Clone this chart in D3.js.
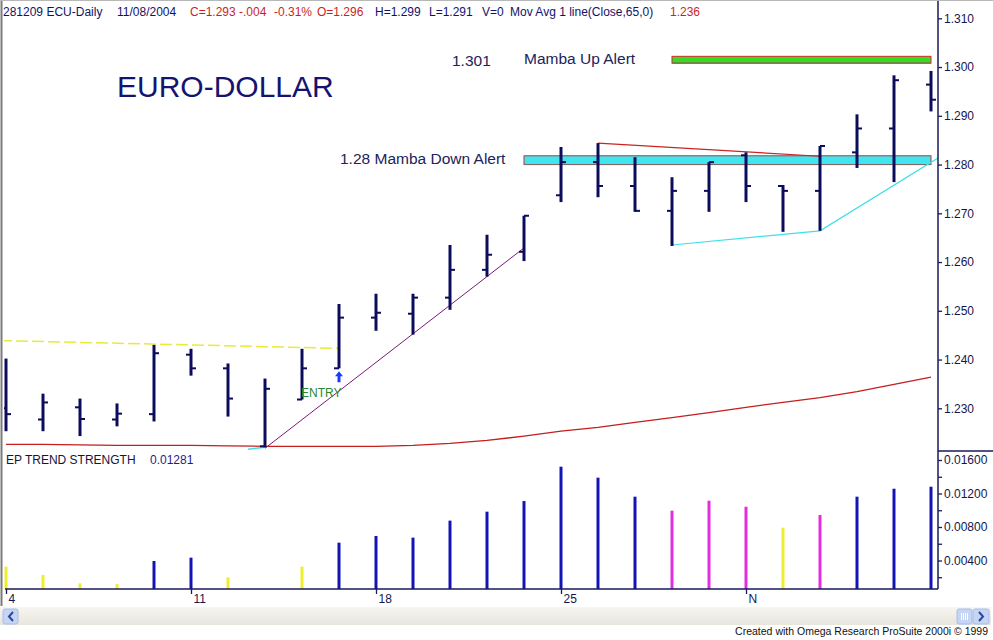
<!DOCTYPE html>
<html>
<head>
<meta charset="utf-8">
<script src="https://cdn.jsdelivr.net/npm/d3@7"></script>
<style>
  body { margin: 0; background: #fff; }
  svg { display: block; font-family: "Liberation Sans", Arial, sans-serif; }
</style>
</head>
<body>
<div id="chart"></div>
<script>

/* daily EUR/USD bars, 4 Oct 2004 .. 8 Nov 2004 */
var dates = ["10/04","10/05","10/06","10/07","10/08","10/11","10/12","10/13","10/14","10/15",
             "10/18","10/19","10/20","10/21","10/22","10/25","10/26","10/27","10/28","10/29",
             "11/01","11/02","11/03","11/04","11/05","11/08"];
var opens  = [1.2300,1.2277,1.2302,1.2277,1.2288,1.2410,1.2382,1.2222,1.2318,1.2382,
              1.2486,1.2494,1.2527,1.2584,1.2621,1.2737,1.2805,1.2756,1.2705,1.2746,
              1.2819,1.2756,1.2746,1.2825,1.2874,1.2964];
var highs  = [1.2402,1.2330,1.2320,1.2310,1.2430,1.2422,1.2392,1.2361,1.2422,1.2514,
              1.2535,1.2535,1.2635,1.2656,1.2695,1.2836,1.2844,1.2815,1.2774,1.2805,
              1.2825,1.2758,1.2838,1.2903,1.2983,1.2992];
var lows   = [1.2253,1.2253,1.2243,1.2263,1.2273,1.2367,1.2283,1.2220,1.2318,1.2382,
              1.2459,1.2451,1.2502,1.2570,1.2602,1.2723,1.2733,1.2703,1.2633,1.2703,
              1.2723,1.2662,1.2664,1.2793,1.2764,1.2909];
var closes = [1.2288,1.2312,1.2278,1.2289,1.2413,1.2382,1.2320,1.2340,1.2382,1.2486,
              1.2496,1.2527,1.2584,1.2615,1.2695,1.2805,1.2756,1.2705,1.2746,1.2805,
              1.2756,1.2746,1.2838,1.2874,1.2973,1.2933];
// 65 day moving average of close
var movAvg = [1.2226,1.2226,1.2225,1.2224,1.2224,1.2224,1.2223,1.2222,1.2222,1.2222,
              1.2222,1.2224,1.2228,1.2234,1.2243,1.2253,1.2261,1.2271,1.2281,1.2291,
              1.2302,1.2312,1.2322,1.2334,1.2349,1.2364];

// EP trend strength histogram (null = no bar)
var trendStrength = [0.00326,0.00227,0.00128,0.00119,0.00394,0.00434,0.00199,null,0.00326,0.00613,
                     0.00693,0.00673,0.00876,0.00983,0.01110,0.01520,0.01389,0.01162,0.00995,0.01114,
                     0.01042,0.00792,0.00943,0.01162,0.01257,0.01281];
var trendState = ["weak","weak","weak","weak","up","up","weak","none","weak","up",
                  "up","up","up","up","up","up","up","up","fade","fade",
                  "fade","weak","fade","up","up","up"];

var dateTickIdx = [0, 5, 10, 15, 20];
var dateTickLabels = ["4", "11", "18", "25", "N"];
var priceTicks = [1.23, 1.24, 1.25, 1.26, 1.27, 1.28, 1.29, 1.30, 1.31];
var strengthTicks = [0.004, 0.008, 0.012, 0.016];
var strengthMinor = [0.002, 0.006, 0.010, 0.014];

// hand drawn annotations: [bar index, price]
var oldResistance = [[-0.16, 1.2439], [9, 1.2423]];
var entryTrend = [[7, 1.2218], [14, 1.2629]];
var lowStub = [[6.54, 1.2216], [7, 1.2220]];
var supportLine = [[18, 1.2635], [22, 1.2664], [25.2, 1.2814]];
var topLine = [[16, 1.2844], [22, 1.2817]];
var downAlert = {from: 14, to: 25, lo: 1.2800, hi: 1.2818};
var upAlert = {from: 18, to: 25, lo: 1.3008, hi: 1.3022};
var entryBar = 9;

var navy = "#12126a", red = "#cc1f1f", barCol = "#0c0c5c";
var stateColor = {weak: "#eeee30", up: "#1414b4", fade: "#e02ee0"};

var W = 993, H = 640;
var svg = d3.select("#chart").append("svg").attr("width", W).attr("height", H);

var x = d3.scaleLinear().domain([0, 25]).range([6, 931]);
var yP = d3.scaleLinear().domain([1.23, 1.31]).range([408.3, 18.3]);
var yS = d3.scaleLinear().domain([0, 0.016]).range([594, 460]);
var baseY = 589, axisX = 938;

svg.append("clipPath").attr("id", "clipTop")
  .append("rect").attr("x", 4).attr("y", 0).attr("width", axisX - 4).attr("height", 451);

var upper = svg.append("g").attr("clip-path", "url(#clipTop)");

/* alert boxes */
[downAlert, upAlert].forEach(function (a, k) {
  upper.append("rect")
    .attr("x", x(a.from)).attr("y", yP(a.hi))
    .attr("width", x(a.to) - x(a.from)).attr("height", yP(a.lo) - yP(a.hi))
    .attr("fill", k == 0 ? "#3fe6f0" : "#33dd22")
    .attr("stroke", "#d42a2a").attr("stroke-width", 1);
  upper.append("line")
    .attr("x1", x(a.from)).attr("x2", x(a.to))
    .attr("y1", yP(a.lo)).attr("y2", yP(a.lo))
    .attr("stroke", "#7a6a6a").attr("stroke-width", 1);
});

var line = d3.line().x(function (d) { return x(d[0]); }).y(function (d) { return yP(d[1]); });

upper.append("path").datum(oldResistance).attr("d", line)
  .attr("fill", "none").attr("stroke", "#eaea3a").attr("stroke-width", 1.5)
  .attr("stroke-dasharray", "12,4");
upper.append("path").datum(entryTrend).attr("d", line)
  .attr("fill", "none").attr("stroke", "#7a1878").attr("stroke-width", 1);
upper.append("path").datum(lowStub).attr("d", line)
  .attr("fill", "none").attr("stroke", "#40e0e8").attr("stroke-width", 1.5);
upper.append("path").datum(supportLine).attr("d", line)
  .attr("fill", "none").attr("stroke", "#40e0e8").attr("stroke-width", 1.2);
upper.append("path").datum(topLine).attr("d", line)
  .attr("fill", "none").attr("stroke", "#cc2222").attr("stroke-width", 1.2);

/* moving average */
upper.append("path")
  .datum(movAvg)
  .attr("d", d3.line().x(function (d, i) { return x(i); }).y(function (d) { return yP(d); }))
  .attr("fill", "none").attr("stroke", "#c41e1e").attr("stroke-width", 1.3);

/* OHLC bars */
var bars = upper.selectAll(".ohlc").data(dates).enter().append("g").attr("class", "ohlc");
bars.append("line")
  .attr("x1", function (d, i) { return x(i); }).attr("x2", function (d, i) { return x(i); })
  .attr("y1", function (d, i) { return yP(highs[i]); }).attr("y2", function (d, i) { return yP(lows[i]); })
  .attr("stroke", barCol).attr("stroke-width", 3);
bars.append("line")
  .attr("x1", function (d, i) { return x(i) - 5; }).attr("x2", function (d, i) { return x(i); })
  .attr("y1", function (d, i) { return yP(opens[i]); }).attr("y2", function (d, i) { return yP(opens[i]); })
  .attr("stroke", barCol).attr("stroke-width", 2);
bars.append("line")
  .attr("x1", function (d, i) { return x(i); }).attr("x2", function (d, i) { return x(i) + 5; })
  .attr("y1", function (d, i) { return yP(closes[i]); }).attr("y2", function (d, i) { return yP(closes[i]); })
  .attr("stroke", barCol).attr("stroke-width", 2);

/* entry arrow */
var ax = x(entryBar), ay = yP(lows[entryBar]) + 3;
svg.append("path")
  .attr("d", "M" + ax + "," + ay + " l-4,5 h2.5 v6 h3 v-6 h2.5 z")
  .attr("fill", "#1a3cff");
svg.append("text").attr("x", 301).attr("y", 397)
  .attr("font-size", 12).attr("fill", "#2a8a2a").text("ENTRY");

/* texts */
svg.append("text").attr("x", 117).attr("y", 97)
  .attr("font-size", 30).attr("fill", "#141470").text("EURO-DOLLAR");
svg.append("text").attr("x", 452).attr("y", 66)
  .attr("font-size", 15.5).attr("fill", "#22225a").text("1.301");
svg.append("text").attr("x", 524).attr("y", 64)
  .attr("font-size", 15.5).attr("fill", "#22225a").text("Mamba Up Alert");
svg.append("text").attr("x", 340).attr("y", 164)
  .attr("font-size", 15.5).attr("fill", "#22225a").text("1.28 Mamba Down Alert");

/* header line computed from last bar */
var n = closes.length - 1;
var chg = closes[n] - closes[n - 1];
var f3 = function (v) { return d3.format(".3f")(v).replace("\u2212", "-"); };
var header = [
  {t: "281209 ECU-Daily", x: 3, c: navy},
  {t: "11/08/2004", x: 117, c: navy},
  {t: "C=" + f3(closes[n]), x: 190, c: red},
  {t: f3(chg).replace("0.", "."), x: 239, c: red},
  {t: d3.format(".2f")(chg / closes[n - 1] * 100).replace("\u2212", "-") + "%", x: 274, c: red},
  {t: "O=" + f3(opens[n]), x: 317, c: red},
  {t: "H=" + f3(highs[n]), x: 375, c: navy},
  {t: "L=" + f3(lows[n]), x: 429, c: navy},
  {t: "V=0", x: 482, c: navy},
  {t: "Mov Avg 1 line(Close,65,0)", x: 510, c: navy},
  {t: f3(movAvg[n]), x: 670, c: red}
];
svg.selectAll(".hdr").data(header).enter().append("text")
  .attr("x", function (d) { return d.x; }).attr("y", 16)
  .attr("font-size", 12).attr("fill", function (d) { return d.c; })
  .text(function (d) { return d.t; });

/* lower panel: trend strength */
svg.append("text").attr("x", 6).attr("y", 464)
  .attr("font-size", 12).attr("fill", "#14143c").text("EP TREND STRENGTH");
svg.append("text").attr("x", 150).attr("y", 464)
  .attr("font-size", 12).attr("fill", "#1e1e8a").text(trendStrength[n]);

var tsData = trendStrength.map(function (v, i) { return {i: i, v: v, s: trendState[i]}; })
  .filter(function (d) { return d.v != null; });
svg.selectAll(".ts").data(tsData).enter().append("line")
  .attr("class", "ts")
  .attr("x1", function (d) { return x(d.i); }).attr("x2", function (d) { return x(d.i); })
  .attr("y1", function (d) { return yS(d.v); }).attr("y2", baseY)
  .attr("stroke", function (d) { return stateColor[d.s]; })
  .attr("stroke-width", 3);

/* axes */
svg.append("line").attr("x1", axisX).attr("x2", axisX).attr("y1", 0).attr("y2", baseY)
  .attr("stroke", "#1a1a5a").attr("stroke-width", 1.5);
svg.append("line").attr("x1", axisX).attr("x2", W).attr("y1", 451).attr("y2", 451)
  .attr("stroke", "#1a1a5a").attr("stroke-width", 1.5);
svg.append("line").attr("x1", 5).attr("x2", axisX).attr("y1", baseY).attr("y2", baseY)
  .attr("stroke", "#1a1a5a").attr("stroke-width", 1.5);

svg.append("g").attr("transform", "translate(" + axisX + ",0)")
  .call(d3.axisRight(yP).tickValues(priceTicks).tickFormat(d3.format(".3f")).tickSize(4).tickPadding(2));
svg.append("g").attr("transform", "translate(" + axisX + ",0)")
  .call(d3.axisRight(yS).tickValues(strengthTicks).tickFormat(d3.format(".5f")).tickSize(4).tickPadding(2));
svg.append("g").attr("transform", "translate(" + axisX + ",0)")
  .call(d3.axisRight(yS).tickValues(strengthMinor).tickFormat("").tickSize(4));
var xAxis = svg.append("g").attr("transform", "translate(0," + baseY + ")")
  .call(d3.axisBottom(x).tickValues(dateTickIdx)
    .tickFormat(function (d, i) { return dateTickLabels[i]; }).tickSize(5));
xAxis.selectAll("text").attr("text-anchor", "start").attr("x", 2).attr("y", 5);

svg.selectAll(".domain").remove();
svg.selectAll(".tick line").attr("stroke", "#1a1a5a").attr("stroke-width", 1.3);
svg.selectAll(".tick text").attr("fill", "#15154e")
  .attr("font-size", 12).attr("font-family", "Liberation Sans, Arial, sans-serif");

/* window frame, scrollbar, credit */
svg.append("line").attr("x1", 1.5).attr("x2", 1.5).attr("y1", 0).attr("y2", 606)
  .attr("stroke", "#7a7a7a").attr("stroke-width", 2);
svg.append("line").attr("x1", 0).attr("x2", W).attr("y1", 0.5).attr("y2", 0.5)
  .attr("stroke", "#b8b8b8").attr("stroke-width", 1);

var grad = svg.append("defs").append("linearGradient").attr("id", "sb")
  .attr("x1", 0).attr("x2", 0).attr("y1", 0).attr("y2", 1);
grad.append("stop").attr("offset", 0).attr("stop-color", "#f7f6f1");
grad.append("stop").attr("offset", 1).attr("stop-color", "#e7e5dc");
svg.append("rect").attr("x", 0).attr("y", 607).attr("width", 991).attr("height", 18).attr("fill", "url(#sb)");

svg.append("rect").attr("x", 3).attr("y", 609).attr("width", 15).attr("height", 15)
  .attr("rx", 2).attr("fill", "#c6d5f6").attr("stroke", "#a9bde9");
svg.append("path").attr("d", "M13,612 l-4,4.5 l4,4.5").attr("fill", "none")
  .attr("stroke", "#2c4a9a").attr("stroke-width", 2);
svg.append("rect").attr("x", 957).attr("y", 609).attr("width", 15).attr("height", 15)
  .attr("rx", 2).attr("fill", "#c6d5f6").attr("stroke", "#a9bde9");
[961, 963, 965, 967].forEach(function (gx) {
  svg.append("line").attr("x1", gx + 0.5).attr("x2", gx + 0.5).attr("y1", 613).attr("y2", 620)
    .attr("stroke", "#ffffff").attr("stroke-width", 1);
});
svg.append("rect").attr("x", 973).attr("y", 609).attr("width", 16).attr("height", 15)
  .attr("rx", 2).attr("fill", "#c6d5f6").attr("stroke", "#a9bde9");
svg.append("path").attr("d", "M979,612 l4,4.5 l-4,4.5").attr("fill", "none")
  .attr("stroke", "#2c4a9a").attr("stroke-width", 2);

svg.append("text").attr("x", 988).attr("y", 635).attr("text-anchor", "end")
  .attr("font-size", 10.5).attr("fill", "#111")
  .text("Created with Omega Research ProSuite 2000i \u00a9 1999");

</script>
</body>
</html>
